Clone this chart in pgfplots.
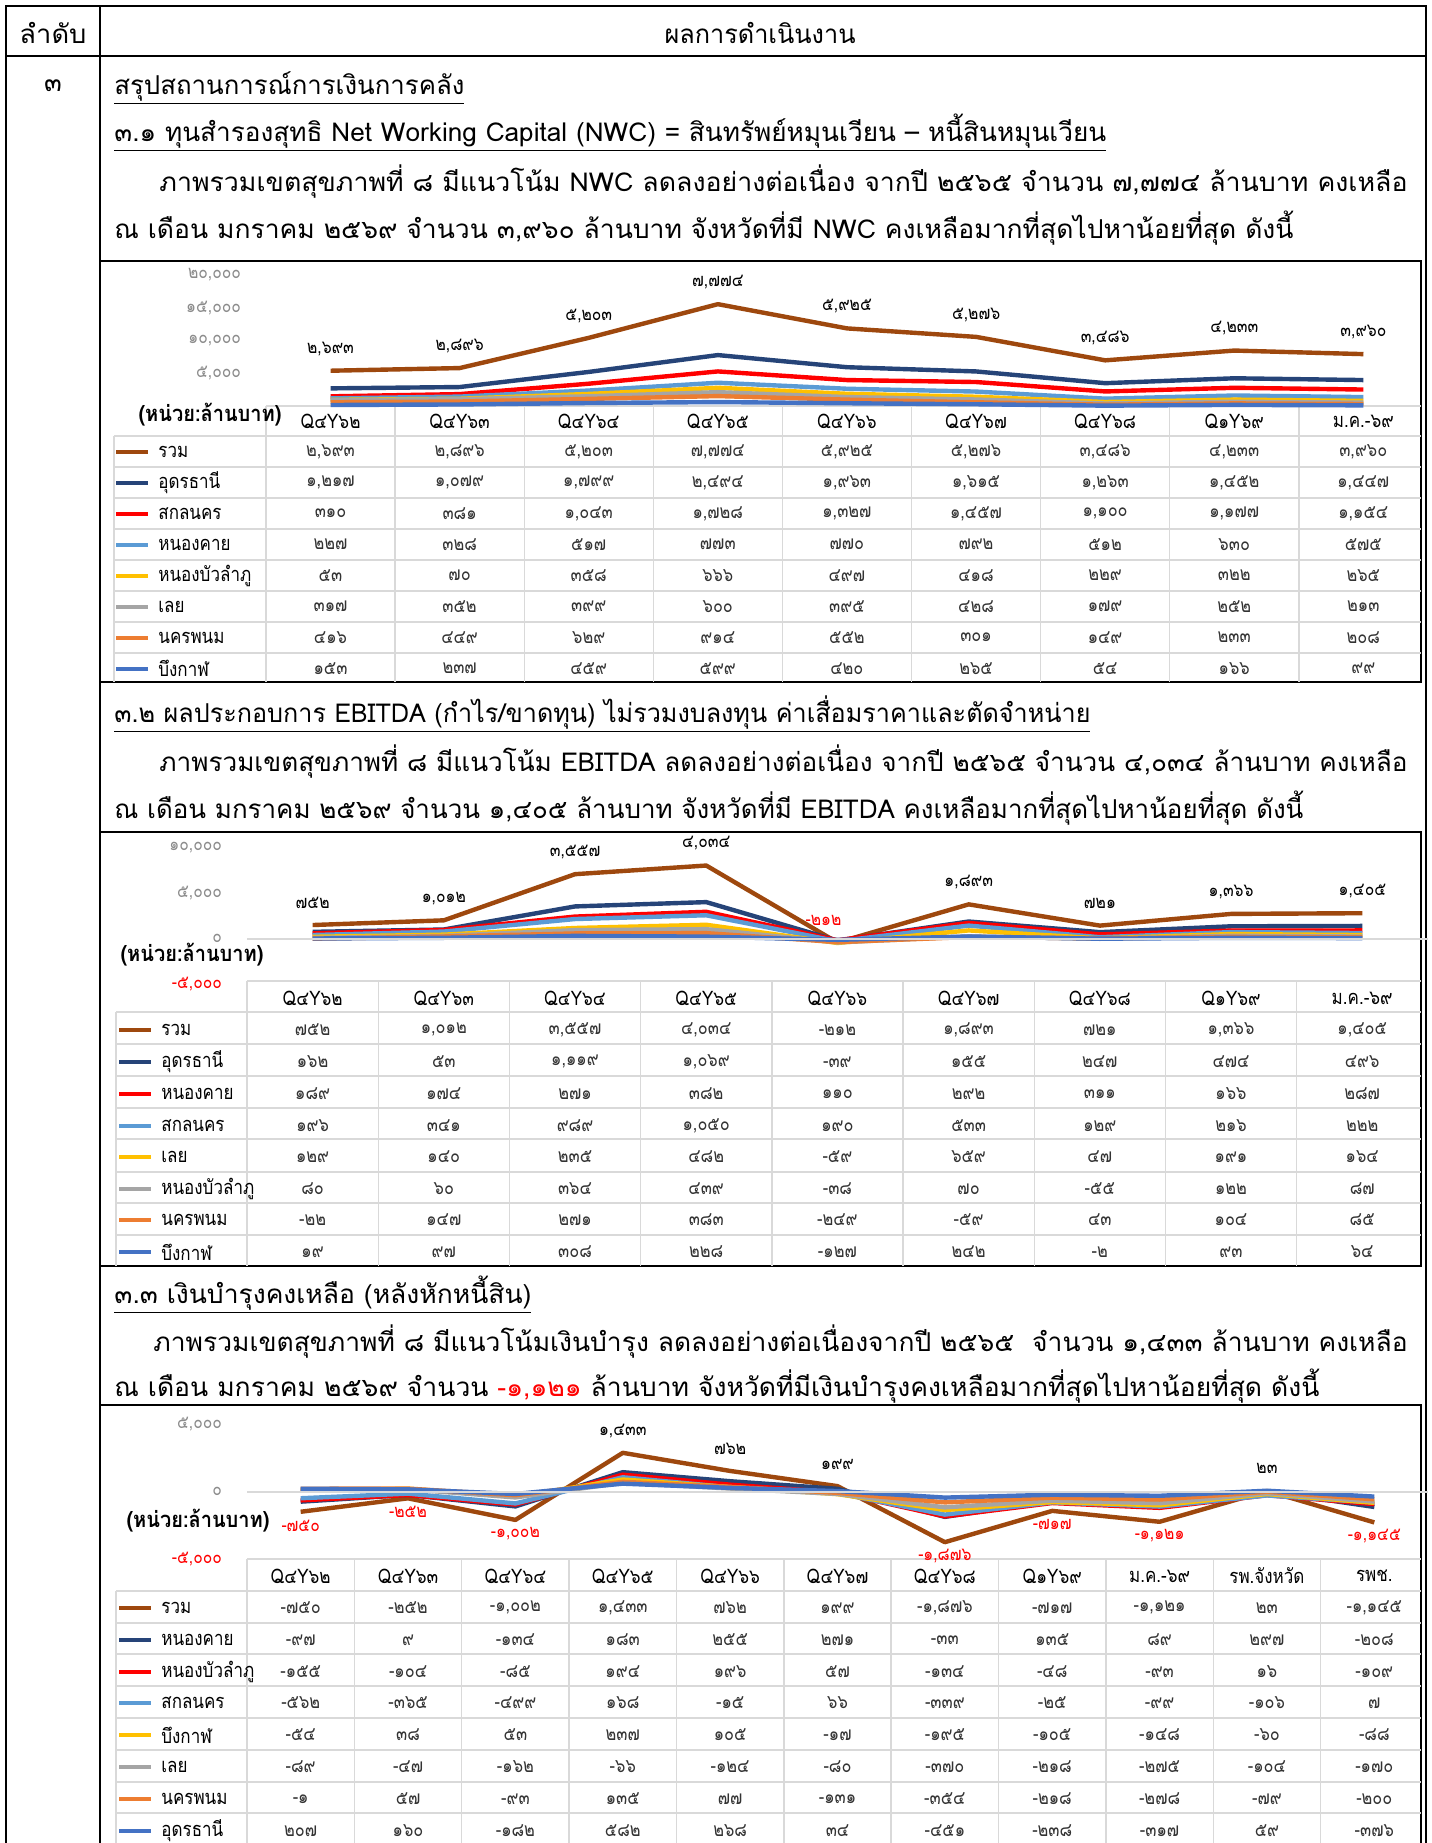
\documentclass[border=0pt]{standalone}
\usepackage{graphicx}
\usepackage{pgfplots}
\pgfplotsset{compat=1.18}
\usepackage{fontspec}
\setmainfont[Script=Thai]{Loma}
\newfontfamily\thc[Script=Thai,FakeStretch=0.85]{Loma}
\definecolor{cBrown}{HTML}{9E480E}
\definecolor{cNavy}{HTML}{264478}
\definecolor{cRed}{HTML}{FF0000}
\definecolor{cLblue}{HTML}{5B9BD5}
\definecolor{cGold}{HTML}{FFC000}
\definecolor{cGray}{HTML}{A5A5A5}
\definecolor{cOrange}{HTML}{ED7D31}
\definecolor{cBlue}{HTML}{4472C4}
\definecolor{grid}{HTML}{D9D9D9}
\newcommand\fsz[1]{\fontsize{#1}{#1}\selectfont}
\newcommand\tnum{\thc\fsz{9.6pt}}
\newcommand\tname{\thc\fsz{10pt}}
\newcommand\tickf{\thc\fsz{9.2pt}}
\newcommand\dlab{\thc\fsz{9.2pt}}
\newcommand\tline[4]{\node[anchor=base west, inner sep=0pt] at (#1,-#2) {\resizebox{#3pt}{\height}{\fsz{13pt}#4}};}
\newcommand\vals[4]{\foreach \v [count=\i from 0] in {#4}{\node[font=\tnum, text=black!80, inner sep=0pt] at ({#2+#3*\i},-#1) {\v};}}
\newcommand\leg[4]{\draw[#2, line width=2pt] (#4,-#1) -- ({#4+32},-#1); \node[font=\tname, anchor=west, inner sep=0pt] at ({#4+42},-#1) {#3};}
\pgfplotsset{chartbase/.style={anchor=south west, scale only axis, stack plots=y, clip=false,
  axis line style={draw=none}, major tick length=0pt, xtick=\empty, scaled y ticks=false,
  yticklabel style={font=\tickf, text=black!45, xshift=-9pt},
  every axis plot/.append style={line width=2.2pt, mark=none, line join=round}}}
\begin{document}
\begin{tikzpicture}
\useasboundingbox (0,0) rectangle (715.5pt,-921.5pt);
\fill[white] (0,0) rectangle (715.5pt,-921.5pt);
\begin{scope}
\clip (0,0) rectangle (715.5pt,-921.5pt);
\begin{scope}[x=0.5pt,y=0.5pt]
% ---------- outer table ----------
\draw[line width=1pt] (6,-1860) -- (6,-6) -- (1426,-6) -- (1426,-1860);
\draw[line width=1pt] (6,-56) -- (1426,-56);
\draw[line width=1pt] (100,-6) -- (100,-1860);
\node[inner sep=0pt] at (53,-33) {\resizebox{33.5pt}{\height}{\fsz{13pt}ลำดับ}};
\node[inner sep=0pt] at (760,-33) {\resizebox{95.5pt}{\height}{\fsz{13pt}ผลการดำเนินงาน}};
\node[inner sep=0pt] at (53,-86) {\fsz{13pt}๓};
\tline{114}{94}{175}{\underline{สรุปสถานการณ์การเงินการคลัง}}
\tline{114}{141}{496}{\underline{๓.๑ ทุนสำรองสุทธิ Net Working Capital (NWC) = สินทรัพย์หมุนเวียน – หนี้สินหมุนเวียน}}
\tline{159}{191}{624}{ภาพรวมเขตสุขภาพที่ ๘ มีแนวโน้ม NWC ลดลงอย่างต่อเนื่อง จากปี ๒๕๖๕ จำนวน ๗,๗๗๔ ล้านบาท คงเหลือ}
\tline{114}{238}{589.5}{ณ เดือน มกราคม ๒๕๖๙ จำนวน ๓,๙๖๐ ล้านบาท จังหวัดที่มี NWC คงเหลือมากที่สุดไปหาน้อยที่สุด ดังนี้}
\tline{114}{722}{488}{\underline{๓.๒ ผลประกอบการ EBITDA (กำไร/ขาดทุน) ไม่รวมงบลงทุน ค่าเสื่อมราคาและตัดจำหน่าย}}
\tline{159}{771}{624}{ภาพรวมเขตสุขภาพที่ ๘ มีแนวโน้ม EBITDA ลดลงอย่างต่อเนื่อง จากปี ๒๕๖๕ จำนวน ๔,๐๓๔ ล้านบาท คงเหลือ}
\tline{114}{818}{594.5}{ณ เดือน มกราคม ๒๕๖๙ จำนวน ๑,๔๐๕ ล้านบาท จังหวัดที่มี EBITDA คงเหลือมากที่สุดไปหาน้อยที่สุด ดังนี้}
\tline{114}{1303}{208.5}{\underline{๓.๓ เงินบำรุงคงเหลือ (หลังหักหนี้สิน)}}
\tline{153}{1351}{627}{ภาพรวมเขตสุขภาพที่ ๘ มีแนวโน้มเงินบำรุง ลดลงอย่างต่อเนื่องจากปี ๒๕๖๕\ \ จำนวน ๑,๔๓๓ ล้านบาท คงเหลือ}
\tline{114}{1396}{602.5}{ณ เดือน มกราคม ๒๕๖๙ จำนวน \textcolor{red}{-๑,๑๒๑} ล้านบาท จังหวัดที่มีเงินบำรุงคงเหลือมากที่สุดไปหาน้อยที่สุด ดังนี้}
% ---------- chart boxes ----------
\draw[line width=1pt] (100,-261) rectangle (1421,-682);
\draw[line width=1pt] (100,-832) rectangle (1421,-1266);
\draw[line width=1pt] (100,-1405) -- (1421,-1405) -- (1421,-1860);
% ================= CHART 1 table =================
\begin{scope}[grid, line width=0.7pt]
\draw (266,-406) -- (1421,-406);
\foreach \yy in {436,467,498,529,560,591,622,653} \draw (114,-\yy) -- (1421,-\yy);
\foreach \k in {0,...,8} \draw ({266+129.1*\k},-406) -- ({266+129.1*\k},-682);
\draw (114,-436) -- (114,-682);
\end{scope}
\node[inner sep=0pt] at (210,-415) {\resizebox{71.5pt}{\height}{\bfseries\fsz{11pt}(หน่วย:ล้านบาท)}};
\foreach \t [count=\i from 0] in {Q๔Y๖๒,Q๔Y๖๓,Q๔Y๖๔,Q๔Y๖๕,Q๔Y๖๖,Q๔Y๖๗,Q๔Y๖๘,Q๑Y๖๙,ม.ค.-๖๙}
  \node[font=\tname, inner sep=0pt] at ({330.5+129.1*\i},-421) {\t};
\leg{451.5}{cBrown}{รวม}{116}
\leg{482.5}{cNavy}{อุดรธานี}{116}
\leg{513.5}{cRed}{สกลนคร}{116}
\leg{544.5}{cLblue}{หนองคาย}{116}
\leg{575.5}{cGold}{หนองบัวลำภู}{116}
\leg{606.5}{cGray}{เลย}{116}
\leg{637.5}{cOrange}{นครพนม}{116}
\leg{668.5}{cBlue}{บึงกาฬ}{116}
\vals{451.5}{330.5}{129.1}{{๒,๖๙๓},{๒,๘๙๖},{๕,๒๐๓},{๗,๗๗๔},{๕,๙๒๕},{๕,๒๗๖},{๓,๔๘๖},{๔,๒๓๓},{๓,๙๖๐}}
\vals{482.5}{330.5}{129.1}{{๑,๒๑๗},{๑,๐๗๙},{๑,๗๙๙},{๒,๔๙๔},{๑,๙๖๓},{๑,๖๑๕},{๑,๒๖๓},{๑,๔๕๒},{๑,๔๔๗}}
\vals{513.5}{330.5}{129.1}{{๓๑๐},{๓๘๑},{๑,๐๔๓},{๑,๗๒๘},{๑,๓๒๗},{๑,๔๕๗},{๑,๑๐๐},{๑,๑๗๗},{๑,๑๕๔}}
\vals{544.5}{330.5}{129.1}{{๒๒๗},{๓๒๘},{๕๑๗},{๗๗๓},{๗๗๐},{๗๙๒},{๕๑๒},{๖๓๐},{๕๗๕}}
\vals{575.5}{330.5}{129.1}{{๕๓},{๗๐},{๓๕๘},{๖๖๖},{๔๙๗},{๔๑๘},{๒๒๙},{๓๒๒},{๒๖๕}}
\vals{606.5}{330.5}{129.1}{{๓๑๗},{๓๕๒},{๓๙๙},{๖๐๐},{๓๙๕},{๔๒๘},{๑๗๙},{๒๕๒},{๒๑๓}}
\vals{637.5}{330.5}{129.1}{{๔๑๖},{๔๔๙},{๖๒๙},{๙๑๔},{๕๕๒},{๓๐๑},{๑๔๙},{๒๓๓},{๒๐๘}}
\vals{668.5}{330.5}{129.1}{{๑๕๓},{๒๓๗},{๔๕๙},{๕๙๙},{๔๒๐},{๒๖๕},{๕๔},{๑๖๖},{๙๙}}
% ================= CHART 2 table =================
\begin{scope}[grid, line width=0.7pt]
\draw (247,-981) -- (1421,-981);
\foreach \yy in {1012,1044,1076,1108,1139,1172,1203,1235} \draw (116,-\yy) -- (1421,-\yy);
\foreach \k in {0,...,8} \draw ({247+131.2*\k},-981) -- ({247+131.2*\k},-1266);
\draw (116,-1012) -- (116,-1266);
\end{scope}
\node[inner sep=0pt] at (192,-955) {\resizebox{71.5pt}{\height}{\bfseries\fsz{11pt}(หน่วย:ล้านบาท)}};
\foreach \t [count=\i from 0] in {Q๔Y๖๒,Q๔Y๖๓,Q๔Y๖๔,Q๔Y๖๕,Q๔Y๖๖,Q๔Y๖๗,Q๔Y๖๘,Q๑Y๖๙,ม.ค.-๖๙}
  \node[font=\tname, inner sep=0pt] at ({312.6+131.2*\i},-998) {\t};
\leg{1030}{cBrown}{รวม}{119}
\leg{1062}{cNavy}{อุดรธานี}{119}
\leg{1094}{cRed}{หนองคาย}{119}
\leg{1126}{cLblue}{สกลนคร}{119}
\leg{1157}{cGold}{เลย}{119}
\leg{1189}{cGray}{หนองบัวลำภู}{119}
\leg{1220}{cOrange}{นครพนม}{119}
\leg{1252}{cBlue}{บึงกาฬ}{119}
\vals{1030}{312.6}{131.2}{{๗๕๒},{๑,๐๑๒},{๓,๕๕๗},{๔,๐๓๔},{-๒๑๒},{๑,๘๙๓},{๗๒๑},{๑,๓๖๖},{๑,๔๐๕}}
\vals{1062}{312.6}{131.2}{{๑๖๒},{๕๓},{๑,๑๑๙},{๑,๐๖๙},{-๓๙},{๑๕๕},{๒๔๗},{๔๗๔},{๔๙๖}}
\vals{1094}{312.6}{131.2}{{๑๘๙},{๑๗๔},{๒๗๑},{๓๘๒},{๑๑๐},{๒๙๒},{๓๑๑},{๑๖๖},{๒๘๗}}
\vals{1126}{312.6}{131.2}{{๑๙๖},{๓๔๑},{๙๘๙},{๑,๐๕๐},{๑๙๐},{๕๓๓},{๑๒๙},{๒๑๖},{๒๒๒}}
\vals{1157}{312.6}{131.2}{{๑๒๙},{๑๔๐},{๒๓๕},{๔๘๒},{-๕๙},{๖๕๙},{๔๗},{๑๙๑},{๑๖๔}}
\vals{1189}{312.6}{131.2}{{๘๐},{๖๐},{๓๖๔},{๔๓๙},{-๓๘},{๗๐},{-๕๕},{๑๒๒},{๘๗}}
\vals{1220}{312.6}{131.2}{{-๒๒},{๑๔๗},{๒๗๑},{๓๘๓},{-๒๔๙},{-๕๙},{๔๓},{๑๐๔},{๘๕}}
\vals{1252}{312.6}{131.2}{{๑๙},{๙๗},{๓๐๘},{๒๒๘},{-๑๒๗},{๒๔๒},{-๒},{๙๓},{๖๔}}
% ================= CHART 3 table =================
\begin{scope}[grid, line width=0.7pt]
\draw (247,-1559) -- (1421,-1559);
\foreach \yy in {1591,1623,1654,1686,1718,1750,1782,1813} \draw (116,-\yy) -- (1421,-\yy);
\foreach \k in {0,...,10} \draw ({247+107.36*\k},-1559) -- ({247+107.36*\k},-1860);
\draw (116,-1591) -- (116,-1860);
\end{scope}
\node[inner sep=0pt] at (198,-1521) {\resizebox{71.5pt}{\height}{\bfseries\fsz{11pt}(หน่วย:ล้านบาท)}};
\foreach \t [count=\i from 0] in {Q๔Y๖๒,Q๔Y๖๓,Q๔Y๖๔,Q๔Y๖๕,Q๔Y๖๖,Q๔Y๖๗,Q๔Y๖๘,Q๑Y๖๙,ม.ค.-๖๙,รพ.จังหวัด,รพช.}
  \node[font=\tname, inner sep=0pt] at ({300.7+107.36*\i},-1576) {\t};
\leg{1608}{cBrown}{รวม}{119}
\leg{1640}{cNavy}{หนองคาย}{119}
\leg{1672}{cRed}{หนองบัวลำภู}{119}
\leg{1703}{cLblue}{สกลนคร}{119}
\leg{1735}{cGold}{บึงกาฬ}{119}
\leg{1767}{cGray}{เลย}{119}
\leg{1799}{cOrange}{นครพนม}{119}
\leg{1831}{cBlue}{อุดรธานี}{119}
\vals{1608}{300.7}{107.36}{{-๗๕๐},{-๒๕๒},{-๑,๐๐๒},{๑,๔๓๓},{๗๖๒},{๑๙๙},{-๑,๘๗๖},{-๗๑๗},{-๑,๑๒๑},{๒๓},{-๑,๑๔๕}}
\vals{1640}{300.7}{107.36}{{-๙๗},{๙},{-๑๓๔},{๑๘๓},{๒๕๕},{๒๗๑},{-๓๓},{๑๓๕},{๘๙},{๒๙๗},{-๒๐๘}}
\vals{1672}{300.7}{107.36}{{-๑๕๕},{-๑๐๔},{-๘๕},{๑๙๔},{๑๙๖},{๕๗},{-๑๓๔},{-๔๘},{-๙๓},{๑๖},{-๑๐๙}}
\vals{1703}{300.7}{107.36}{{-๕๖๒},{-๓๖๕},{-๔๙๙},{๑๖๘},{-๑๕},{๖๖},{-๓๓๙},{-๒๕},{-๙๙},{-๑๐๖},{๗}}
\vals{1735}{300.7}{107.36}{{-๕๔},{๓๘},{๕๓},{๒๓๗},{๑๐๕},{-๑๗},{-๑๙๕},{-๑๐๕},{-๑๔๘},{-๖๐},{-๘๘}}
\vals{1767}{300.7}{107.36}{{-๘๙},{-๔๗},{-๑๖๒},{-๖๖},{-๑๒๔},{-๘๐},{-๓๗๐},{-๒๑๘},{-๒๗๕},{-๑๐๔},{-๑๗๐}}
\vals{1799}{300.7}{107.36}{{-๑},{๕๗},{-๙๓},{๑๓๕},{๗๗},{-๑๓๑},{-๓๕๔},{-๒๑๘},{-๒๗๘},{-๗๙},{-๒๐๐}}
\vals{1831}{300.7}{107.36}{{๒๐๗},{๑๖๐},{-๑๘๒},{๕๘๒},{๒๖๘},{๓๔},{-๔๕๑},{-๒๓๘},{-๓๑๗},{๕๙},{-๓๗๖}}
\end{scope}
% ================= CHART 1 axis =================
\begin{axis}[chartbase, at={(133pt,-203pt)}, width=581pt, height=65.5pt,
  xmin=-0.5, xmax=8.5, ymin=0, ymax=20000,
  ytick={5000,10000,15000,20000}, yticklabels={{๕,๐๐๐},{๑๐,๐๐๐},{๑๕,๐๐๐},{๒๐,๐๐๐}}]
\addplot[cBlue] coordinates {(0,153)(1,237)(2,459)(3,599)(4,420)(5,265)(6,54)(7,166)(8,99)};
\addplot[cOrange] coordinates {(0,416)(1,449)(2,629)(3,914)(4,552)(5,301)(6,149)(7,233)(8,208)};
\addplot[cGray] coordinates {(0,317)(1,352)(2,399)(3,600)(4,395)(5,428)(6,179)(7,252)(8,213)};
\addplot[cGold] coordinates {(0,53)(1,70)(2,358)(3,666)(4,497)(5,418)(6,229)(7,322)(8,265)};
\addplot[cLblue] coordinates {(0,227)(1,328)(2,517)(3,773)(4,770)(5,792)(6,512)(7,630)(8,575)};
\addplot[cRed] coordinates {(0,310)(1,381)(2,1043)(3,1728)(4,1327)(5,1457)(6,1100)(7,1177)(8,1154)};
\addplot[cNavy] coordinates {(0,1217)(1,1079)(2,1799)(3,2494)(4,1963)(5,1615)(6,1263)(7,1452)(8,1447)};
\addplot[cBrown, nodes near coords, point meta=explicit symbolic,
  every node near coord/.append style={font=\dlab, text=black, anchor=center, yshift=11pt}]
  coordinates {(0,2693)[{๒,๖๙๓}] (1,2896)[{๒,๘๙๖}] (2,5203)[{๕,๒๐๓}] (3,7774)[{๗,๗๗๔}] (4,5925)[{๕,๙๒๕}] (5,5276)[{๕,๒๗๖}] (6,3486)[{๓,๔๘๖}] (7,4233)[{๔,๒๓๓}] (8,3960)[{๓,๙๖๐}]};
\end{axis}
% ================= CHART 2 axis =================
\begin{axis}[chartbase, at={(123.5pt,-492pt)}, width=590.5pt, height=68pt,
  xmin=-0.5, xmax=8.5, ymin=-5000, ymax=10000,
  ytick={-5000,0,5000,10000}, yticklabels={{\color{red}-๕,๐๐๐},{๐},{๕,๐๐๐},{๑๐,๐๐๐}}]
\draw[black!15, line width=1pt] (axis cs:-0.5,0) -- (axis cs:8.5,0);
\addplot[cBlue] coordinates {(0,19)(1,97)(2,308)(3,228)(4,-127)(5,242)(6,-2)(7,93)(8,64)};
\addplot[cOrange] coordinates {(0,-22)(1,147)(2,271)(3,383)(4,-249)(5,-59)(6,43)(7,104)(8,85)};
\addplot[cGray] coordinates {(0,80)(1,60)(2,364)(3,439)(4,-38)(5,70)(6,-55)(7,122)(8,87)};
\addplot[cGold] coordinates {(0,129)(1,140)(2,235)(3,482)(4,-59)(5,659)(6,47)(7,191)(8,164)};
\addplot[cLblue] coordinates {(0,196)(1,341)(2,989)(3,1050)(4,190)(5,533)(6,129)(7,216)(8,222)};
\addplot[cRed] coordinates {(0,189)(1,174)(2,271)(3,382)(4,110)(5,292)(6,311)(7,166)(8,287)};
\addplot[cNavy] coordinates {(0,162)(1,53)(2,1119)(3,1069)(4,-39)(5,155)(6,247)(7,474)(8,496)};
\addplot[cBrown, nodes near coords, point meta=explicit symbolic,
  every node near coord/.append style={font=\dlab, text=black, anchor=center, yshift=11pt}]
  coordinates {(0,752)[{๗๕๒}] (1,1012)[{๑,๐๑๒}] (2,3557)[{๓,๕๕๗}] (3,4034)[{๔,๐๓๔}] (4,-212)[{\color{red}\hspace*{-14pt}-๒๑๒}] (5,1893)[{๑,๘๙๓}] (6,721)[{๗๒๑}] (7,1366)[{๑,๓๖๖}] (8,1405)[{๑,๔๐๕}]};
\end{axis}
% ================= CHART 3 axis =================
\begin{axis}[chartbase, at={(123.5pt,-779.5pt)}, width=590.5pt, height=67.5pt,
  xmin=-0.5, xmax=10.5, ymin=-5000, ymax=5000,
  ytick={-5000,0,5000}, yticklabels={{\color{red}-๕,๐๐๐},{๐},{๕,๐๐๐}}]
\draw[black!15, line width=1pt] (axis cs:-0.5,0) -- (axis cs:10.5,0);
\addplot[cBlue] coordinates {(0,207)(1,160)(2,-182)(3,582)(4,268)(5,34)(6,-451)(7,-238)(8,-317)(9,59)(10,-376)};
\addplot[cOrange] coordinates {(0,-1)(1,57)(2,-93)(3,135)(4,77)(5,-131)(6,-354)(7,-218)(8,-278)(9,-79)(10,-200)};
\addplot[cGray] coordinates {(0,-89)(1,-47)(2,-162)(3,-66)(4,-124)(5,-80)(6,-370)(7,-218)(8,-275)(9,-104)(10,-170)};
\addplot[cGold] coordinates {(0,-54)(1,38)(2,53)(3,237)(4,105)(5,-17)(6,-195)(7,-105)(8,-148)(9,-60)(10,-88)};
\addplot[cLblue] coordinates {(0,-562)(1,-365)(2,-499)(3,168)(4,-15)(5,66)(6,-339)(7,-25)(8,-99)(9,-106)(10,7)};
\addplot[cRed] coordinates {(0,-155)(1,-104)(2,-85)(3,194)(4,196)(5,57)(6,-134)(7,-48)(8,-93)(9,16)(10,-109)};
\addplot[cNavy] coordinates {(0,-97)(1,9)(2,-134)(3,183)(4,255)(5,271)(6,-33)(7,135)(8,89)(9,297)(10,-208)};
\addplot[cBrown, nodes near coords, point meta=explicit symbolic,
  visualization depends on={rawy \as \rawy},
  every node near coord/.append style={font=\dlab, text=black, anchor=center, yshift={\rawy<0 ? -7 : 11}}]
  coordinates {(0,-750)[{\color{red}-๗๕๐}] (1,-252)[{\color{red}-๒๕๒}] (2,-1002)[{\color{red}-๑,๐๐๒}] (3,1433)[{๑,๔๓๓}] (4,762)[{๗๖๒}] (5,199)[{๑๙๙}] (6,-1876)[{\color{red}-๑,๘๗๖}] (7,-717)[{\color{red}-๗๑๗}] (8,-1121)[{\color{red}-๑,๑๒๑}] (9,23)[{๒๓}] (10,-1145)[{\color{red}-๑,๑๔๕}]};
\end{axis}
\end{scope}
\end{tikzpicture}
\end{document}
